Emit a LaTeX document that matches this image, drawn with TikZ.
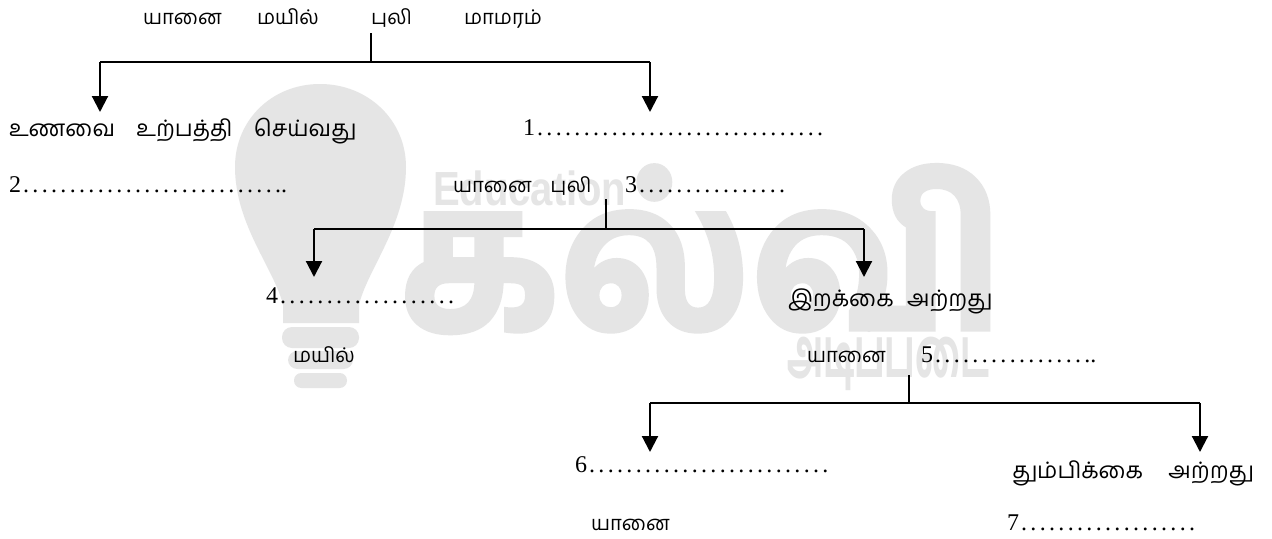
\documentclass[tikz,border=0pt]{standalone}
\usepackage{fontspec}
\setmainfont{Liberation Serif}
\newfontfamily\tamilfont[Script=Tamil]{Hind Madurai}
\newfontfamily\wmfont[Script=Tamil,FakeBold=1.6]{Hind Madurai Bold}
\newfontfamily\wmsubfont[Script=Tamil]{Hind Madurai Bold}
\newfontfamily\wmlatin{Liberation Sans}
\usetikzlibrary{arrows.meta}
% a row of spaced leader dots
\newcommand\leaderdots[1]{\hspace{1.6pt}\foreach \i in {1,...,#1}{.\hspace{2.5pt}}}
\newcommand\gp[1]{\hspace{#1pt}}
\tikzset{
  lab/.style={anchor=base west,inner sep=0pt,outer sep=0pt,font=\fontsize{18}{20}\selectfont},
  tam/.style={anchor=base west,inner sep=0pt,outer sep=0pt,font=\tamilfont\fontsize{17}{20}\selectfont},
  tamsm/.style={anchor=base west,inner sep=0pt,outer sep=0pt,font=\tamilfont\fontsize{15.2}{18}\selectfont},
  stem/.style={line width=1.1pt,black},
  bar/.style={line width=1.6pt,black,line cap=square},
  arr/.style={line width=1.6pt,black,-{Triangle[length=12pt,width=12pt]},shorten >=0pt},
  wm/.style={fill=black!10,draw=none},
  wmtext/.style={anchor=base west,inner sep=0pt,outer sep=0pt,text=black!10},
}
\begin{document}
\begin{tikzpicture}[x=0.75pt,y=-0.75pt]
\useasboundingbox[fill=white] (0,0) rectangle (1272,539);
% watermark
\fill[wm] (283,323) -- (283,305) .. controls (275,270) and (235,225) .. (235,167)
  .. controls (235,120) and (272,84) .. (320,84)
  .. controls (368,84) and (406,120) .. (406,167)
  .. controls (406,225) and (367,270) .. (359,305) -- (359,323) -- cycle;
\fill[wm,rounded corners=7.5pt] (282,327) rectangle (359,348);
\fill[wm,rounded corners=7pt] (288,351) rectangle (353,369);
\fill[wm,rounded corners=5.5pt] (294,373) rectangle (347,388);
\node[wmtext] (wmedu) at (433,205) {\resizebox{145pt}{26pt}{\wmlatin\bfseries Education}};
\node[wmtext] (wmbig) at (400,330) {\resizebox{452pt}{124pt}{\wmfont கல்வி}};
\node[wmtext] (wmsub) at (787,377) {\resizebox{152pt}{42pt}{\wmsubfont அடிப்படை}};
% labels
\node[tamsm] (t1) at (143,24) {யானை};
\node[tamsm] (t2) at (257,24) {மயில்};
\node[tamsm] (t3) at (371,24) {புலி};
\node[tamsm] (t4) at (464,24) {மாமரம்};
\node[tam] (a1) at (9,136) {உணவை\gp{16}உற்பத்தி\gp{16}செய்வது};
\node[lab] (a2) at (523,135) {1\leaderdots{31}};
\node[lab] (b1) at (9,192) {2\leaderdots{27}..};
\node[tamsm] (b2) at (453,192) {யானை\gp{14}புலி};
\node[lab] (b3) at (625,192) {3\leaderdots{16}};
\node[lab] (c1) at (266,303) {4\leaderdots{19}};
\node[tam] (c2) at (788,306) {இறக்கை\gp{10}அற்றது};
\node[tamsm] (d1) at (293,362) {மயில்};
\node[tamsm] (d2) at (807,362) {யானை};
\node[lab] (d3) at (921,362) {5\leaderdots{16}..};
\node[lab] (e1) at (575,472) {6\leaderdots{26}};
\node[tam] (e2) at (1012,478) {தும்பிக்கை\gp{19}அற்றது};
\node[tamsm] (f1) at (591,530) {யானை};
\node[lab] (f2) at (1007,530) {7\leaderdots{19}};
% connector points
\coordinate (s1) at (371,33); \coordinate (j1) at (371,62);
\coordinate (l1) at (100,62); \coordinate (r1) at (650,62);
\coordinate (lt1) at (100,112); \coordinate (rt1) at (650,112);
\coordinate (s2) at (606,199); \coordinate (j2) at (606,229);
\coordinate (l2) at (314,229); \coordinate (r2) at (864,229);
\coordinate (lt2) at (314,277); \coordinate (rt2) at (864,277);
\coordinate (s3) at (909,375); \coordinate (j3) at (909,403);
\coordinate (l3) at (650,403); \coordinate (r3) at (1200,403);
\coordinate (lt3) at (650,452); \coordinate (rt3) at (1200,452);
\foreach \k in {1,2,3}{
  \draw[stem] (s\k) -- (j\k);
  \draw[bar] (l\k) -- (r\k);
  \draw[arr] (l\k) -- (lt\k);
  \draw[arr] (r\k) -- (rt\k);
}
\end{tikzpicture}
\end{document}
